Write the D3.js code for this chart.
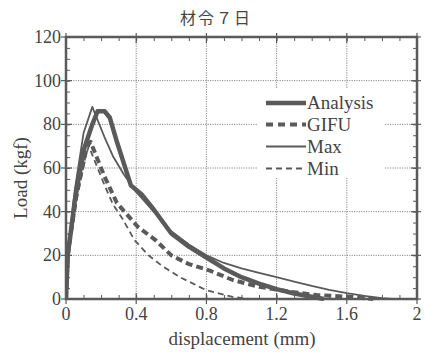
<!DOCTYPE html>
<html><head><meta charset="utf-8">
<script src="https://cdn.jsdelivr.net/npm/d3@7"></script>
<style>body{margin:0;background:#fff}svg{display:block}</style>
</head><body>
<script>
const title = "材令７日";
const xTicks = [0, 0.4, 0.8, 1.2, 1.6, 2];
const xTickLabels = ["0", "0.4", "0.8", "1.2", "1.6", "2"];
const yTicks = [0, 20, 40, 60, 80, 100, 120];
const seriesNames = ["Analysis", "GIFU", "Max", "Min"];
const analysis = [[0,0],[0.01,20],[0.05,45],[0.1,68],[0.15,80],[0.18,86],[0.22,86],[0.25,83],[0.29,72],[0.33,62],[0.37,52],[0.43,48],[0.5,41],[0.6,30],[0.7,24],[0.8,19],[0.9,14],[1.0,10],[1.1,7],[1.2,4.5],[1.3,2.5],[1.4,1],[1.47,0]];
const gifu = [[0,0],[0.01,20],[0.06,48],[0.12,70],[0.14,72],[0.165,67],[0.22,56],[0.29,44],[0.41,33],[0.51,27],[0.6,20],[0.7,16],[0.82,13],[0.95,8.7],[1.1,5.6],[1.28,3.3],[1.43,1.8],[1.62,1],[1.75,0]];
const maxS = [[0,0],[0.01,20],[0.05,50],[0.1,76],[0.15,88],[0.18,82],[0.22,74],[0.27,65],[0.33,57],[0.4,49],[0.5,40],[0.6,31],[0.7,25],[0.8,20],[0.9,16.5],[1.0,14],[1.1,12],[1.2,10],[1.3,8],[1.4,6],[1.5,4.2],[1.6,2.7],[1.7,1.4],[1.8,0.4],[1.86,0]];
const minS = [[0,0],[0.01,18],[0.06,45],[0.11,65],[0.13,70],[0.17,62],[0.22,52],[0.27,43],[0.32,37],[0.39,27],[0.47,20],[0.55,15],[0.65,10],[0.8,4],[0.95,1],[1.05,0]];

const W = 425, H = 352;
const m = {l:66, r:8, t:37, b:53};
const svg = d3.select("body").append("svg").attr("width", W).attr("height", H);
const x = d3.scaleLinear().domain([0,2]).range([m.l, W-m.r]);
const y = d3.scaleLinear().domain([0,120]).range([H-m.b, m.t]);
const gray = "#5a5a5a";
const font = "'Liberation Serif', 'DejaVu Serif', serif";

// grid
const g = svg.append("g");
g.selectAll(".gx").data(xTicks.slice(1,-1)).join("line")
  .attr("x1", d=>x(d)).attr("x2", d=>x(d)).attr("y1", y(0)).attr("y2", y(120))
  .attr("stroke", "#888").attr("stroke-width", 1).attr("stroke-dasharray", "1.2,1.2");
g.selectAll(".gy").data(yTicks.slice(1,-1)).join("line")
  .attr("y1", d=>y(d)).attr("y2", d=>y(d)).attr("x1", x(0)).attr("x2", x(2))
  .attr("stroke", "#888").attr("stroke-width", 1).attr("stroke-dasharray", "1.2,1.2");

// legend background
svg.append("rect").attr("x", 257).attr("y", 88).attr("width", 128).attr("height", 90).attr("fill", "#fff");

// lines
const line = d3.line().x(d=>x(d[0])).y(d=>y(d[1]));
const styles = {
  Analysis: {w:4.5, dash:null},
  GIFU: {w:4, dash:"7,4"},
  Max: {w:1.8, dash:null},
  Min: {w:1.8, dash:"6,4"}
};
const data = {Analysis: analysis, GIFU: gifu, Max: maxS, Min: minS};
svg.append("defs").append("clipPath").attr("id","clip").append("rect")
  .attr("x", x(0)).attr("y", y(120)).attr("width", x(2)-x(0)).attr("height", y(0)-y(120)+2);
const lg = svg.append("g").attr("clip-path","url(#clip)");
["Min","GIFU","Max","Analysis"].forEach(k => {
  lg.append("path").datum(data[k]).attr("d", line).attr("fill","none")
    .attr("stroke", gray).attr("stroke-width", styles[k].w)
    .attr("stroke-dasharray", styles[k].dash).attr("stroke-linejoin","round");
});

// axes frame
const axG = svg.append("g");
const xAxB = d3.axisBottom(x).tickValues(d3.range(0,2.001,0.1)).tickSize(-4).tickFormat("");
const xAxT = d3.axisTop(x).tickValues(d3.range(0,2.001,0.1)).tickSize(-4).tickFormat("");
const yAxL = d3.axisLeft(y).tickValues(d3.range(0,120.1,5)).tickSize(-4).tickFormat("");
const yAxR = d3.axisRight(y).tickValues(d3.range(0,120.1,5)).tickSize(-4).tickFormat("");
[[xAxB,`translate(0,${y(0)})`],[xAxT,`translate(0,${y(120)})`],[yAxL,`translate(${x(0)},0)`],[yAxR,`translate(${x(2)},0)`]].forEach(([a,t])=>{
  const gg = axG.append("g").attr("transform", t).call(a);
  gg.select(".domain").remove();
  gg.selectAll("line").attr("stroke", gray).attr("stroke-width", 1);
});
// major outward ticks
axG.selectAll(".mx").data(xTicks).join("line")
  .attr("x1", d=>x(d)).attr("x2", d=>x(d)).attr("y1", y(0)-6).attr("y2", y(0)+5).attr("stroke", gray).attr("stroke-width",1.2);
axG.selectAll(".mxt").data(xTicks).join("line")
  .attr("x1", d=>x(d)).attr("x2", d=>x(d)).attr("y1", y(120)-4).attr("y2", y(120)+6).attr("stroke", gray).attr("stroke-width",1.2);
axG.selectAll(".my").data(yTicks).join("line")
  .attr("y1", d=>y(d)).attr("y2", d=>y(d)).attr("x1", x(0)-5).attr("x2", x(0)+6).attr("stroke", gray).attr("stroke-width",1.2);
axG.selectAll(".myr").data(yTicks).join("line")
  .attr("y1", d=>y(d)).attr("y2", d=>y(d)).attr("x1", x(2)-6).attr("x2", x(2)+4).attr("stroke", gray).attr("stroke-width",1.2);
axG.append("rect").attr("x", x(0)).attr("y", y(120)).attr("width", x(2)-x(0)).attr("height", y(0)-y(120))
  .attr("fill","none").attr("stroke", gray).attr("stroke-width", 2.5);

// tick labels
svg.selectAll(".xl").data(xTicks).join("text")
  .attr("x", d=>x(d)).attr("y", y(0)+21).attr("text-anchor","middle")
  .attr("font-family", font).attr("font-size", 18).attr("fill", "#444")
  .text((d,i)=>xTickLabels[i]);
svg.selectAll(".yl").data(yTicks).join("text")
  .attr("x", x(0)-5).attr("y", d=>y(d)+6).attr("text-anchor","end")
  .attr("font-family", font).attr("font-size", 18).attr("fill", "#444")
  .text(d=>d);

// axis titles
svg.append("text").attr("x", 242).attr("y", 345).attr("text-anchor","middle")
  .attr("font-family", font).attr("font-size", 19).attr("fill", "#444").text("displacement (mm)");
svg.append("text").attr("transform", `translate(27,${y(60)+10}) rotate(-90)`).attr("text-anchor","middle")
  .attr("font-family", font).attr("font-size", 19).attr("fill", "#444").text("Load (kgf)");
svg.append("text").attr("x", 216).attr("y", 24).attr("text-anchor","middle")
  .attr("font-family", "'Noto Sans CJK JP', sans-serif").attr("font-size", 16).attr("fill", "#444")
  .attr("letter-spacing", 2).text(title);

// legend
const legY = [103, 124.5, 146.5, 168.5];
seriesNames.forEach((k,i) => {
  svg.append("line").attr("x1", 266).attr("x2", 306).attr("y1", legY[i]).attr("y2", legY[i])
    .attr("stroke", gray).attr("stroke-width", styles[k].w).attr("stroke-dasharray", k==="GIFU" ? "7,5" : styles[k].dash);
  svg.append("text").attr("x", 307).attr("y", legY[i]+6).attr("font-family", font)
    .attr("font-size", 19).attr("fill", "#444").text(k);
});
</script>
</body></html>
